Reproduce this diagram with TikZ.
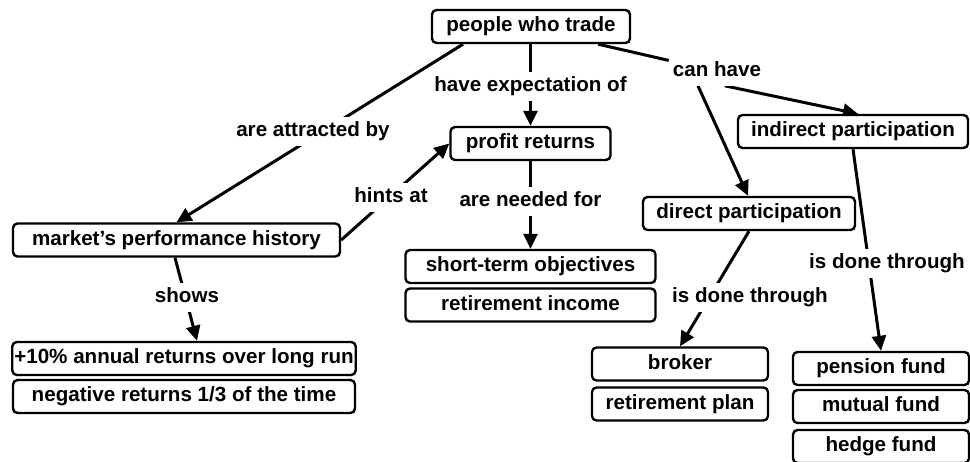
\documentclass[tikz,border=0pt]{standalone}
\usepackage{fontspec}
\setmainfont{Liberation Sans}
\usetikzlibrary{arrows.meta,calc,backgrounds}

\tikzset{
  concept/.style={draw, line width=2.4pt, rounded corners=4.5pt, fill=white,
    minimum height=33pt, inner xsep=2pt, inner ysep=0pt,
    text height=15pt, text depth=4.3pt},
  linkword/.style={fill=white, inner xsep=4pt, inner ysep=4.5pt,
    text height=15pt, text depth=4.3pt},
  link/.style={line width=3pt},
  linkarrow/.style={line width=3pt, -{Triangle[length=15pt,width=14pt]}},
}

\begin{document}
\begin{tikzpicture}[x=1pt, y=-1pt, font=\fontsize{20.6}{25}\selectfont\bfseries]
\useasboundingbox (0,0) rectangle (970,461);

% concepts
\node[concept, minimum width=198pt] (people)   at (531,26.5)  {people who trade};
\node[concept, minimum width=160pt] (profit)   at (530.5,143.5) {profit returns};
\node[concept, minimum width=250pt] (shortterm) at (530.5,266.5) {short-term objectives};
\node[concept, minimum width=250pt] (retinc)   at (530.5,305)  {retirement income};
\node[concept, minimum width=327pt] (market)   at (176.5,240)  {market’s performance history};
\node[concept, minimum width=342pt] (plusten)  at (184,358.5)  {+10\% annual returns over long run};
\node[concept, minimum width=342pt] (negret)   at (184,396.5)  {negative returns 1/3 of the time};
\node[concept, minimum width=230pt] (indirect) at (853,131.5)  {indirect participation};
\node[concept, minimum width=212pt] (direct)   at (749,213.5)  {direct participation};
\node[concept, minimum width=176pt] (broker)   at (680,364)    {broker};
\node[concept, minimum width=176pt] (retplan)  at (680,404)    {retirement plan};
\node[concept, minimum width=176pt] (pension)  at (881,368.5)  {pension fund};
\node[concept, minimum width=176pt] (mutual)   at (881,406.5)  {mutual fund};
\node[concept, minimum width=176pt] (hedge)    at (881,446.5)  {hedge fund};

% linking phrases
\node[linkword] (expect)   at (530.5,86.5)  {have expectation of};
\node[linkword] (needed)   at (530.5,201.5) {are needed for};
\node[linkword] (attract)  at (313,131.5)   {are attracted by};
\node[linkword] (hints)    at (391,197.5)   {hints at};
\node[linkword] (shows)    at (187,297.5)   {shows};
\node[linkword] (canhave)  at (717,71.5)    {can have};
\node[linkword] (doneleft) at (750,297.5)   {is done through};
\node[linkword] (doneright) at (887,263.5)  {is done through};

% connectors, kept behind the phrases
\begin{pgfonlayer}{background}
\draw[linkarrow] ($(people.south)+(-68,0)$) -- (market.north);
\draw[linkarrow] (people.south -| profit.north) -- (profit.north);
\draw[linkarrow] (profit.south) -- (shortterm.north);
\draw[linkarrow] (market.east) -- (profit.west);
\draw[linkarrow] ($(market.south)+(-1.5,0)$) -- ($(plusten.north)+(13,0)$);
\draw[link] ($(people.south east)+(-33,0)$) -- (canhave);
\draw[linkarrow] ($(canhave.south)+(8,0)$) -- ($(indirect.north)+(5,0)$);
\draw[linkarrow] ($(canhave.south)+(-19,0)$) -- ($(direct.north)+(-1,0)$);
\draw[linkarrow] (direct.south) -- (broker.north);
\draw[linkarrow] (indirect.south) -- (pension.north);
\end{pgfonlayer}
\end{tikzpicture}
\end{document}
